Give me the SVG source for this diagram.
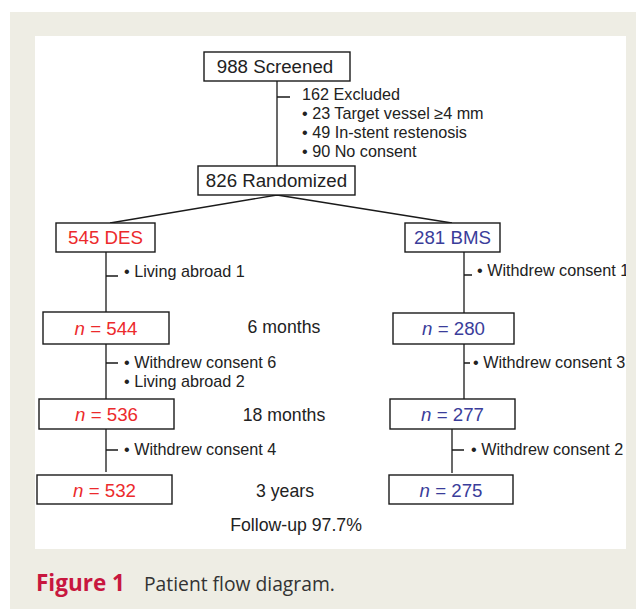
<svg xmlns="http://www.w3.org/2000/svg" width="636" height="609" viewBox="0 0 636 609">
<style>
.box{fill:#fff;stroke:#1a1a1a;stroke-width:1.4}
.ln{stroke:#1a1a1a;stroke-width:1.3;fill:none}
text{font-family:"Liberation Sans",Arial,sans-serif;fill:#222}
.big{font-size:18.7px}
.sm{font-size:16.2px}
.mid{font-size:17.7px}
.red{fill:#ec2a2c}
.blue{fill:#3a3d9a}
.c{text-anchor:middle}
</style>
<defs><clipPath id="panel"><rect x="35" y="36" width="591" height="513"/></clipPath></defs>
<rect x="0" y="0" width="636" height="609" fill="#fff"/>
<rect x="10" y="12" width="626" height="597" fill="#eeede4"/>
<rect x="35" y="36" width="591" height="513" fill="#fff"/>
<g id="connectors">
<path class="ln" d="M277 81V166M277 97H290"/>
<path class="ln" d="M277 195L110 223M277 195L452 223"/>
<path class="ln" d="M106 252V312M106 276H118"/>
<path class="ln" d="M106 344V399M106 363H118"/>
<path class="ln" d="M106 429V472M106 450H118"/>
<path class="ln" d="M464 252V313M464 275H472"/>
<path class="ln" d="M464 344V399M464 363H470"/>
<path class="ln" d="M452 429V473M452 450H464"/>
</g>
<g id="screened"><rect class="box" x="204" y="52" width="146" height="29"/><text class="big c" x="275" y="73">988 Screened</text></g>
<g id="excluded"><text class="sm" x="302" y="100">162 Excluded</text><text class="sm" x="302" y="119">• 23 Target vessel ≥4 mm</text><text class="sm" x="302" y="138">• 49 In-stent restenosis</text><text class="sm" x="302" y="157">• 90 No consent</text></g>
<g id="randomized"><rect class="box" x="198" y="166" width="157" height="29"/><text class="big c" x="276.5" y="187">826 Randomized</text></g>
<g id="des"><rect class="box" x="56" y="223" width="99" height="29"/><text class="big c red" x="105.5" y="244">545 DES</text></g>
<g id="bms"><rect class="box" x="405" y="223" width="95" height="29"/><text class="big c blue" x="452.5" y="244">281 BMS</text></g>
<g id="des-loss1"><text class="sm" x="124" y="277">• Living abroad 1</text></g>
<g id="bms-loss1" clip-path="url(#panel)"><text class="sm" x="477" y="276">• Withdrew consent 1</text></g>
<g id="des544"><rect class="box" x="43" y="312" width="126" height="32"/><text class="big c red" x="106" y="335"><tspan font-style="italic">n</tspan> = 544</text></g>
<g id="m6"><text class="mid c" x="284" y="333">6 months</text></g>
<g id="bms280"><rect class="box" x="393" y="313" width="121" height="31"/><text class="big c blue" x="453.5" y="335"><tspan font-style="italic">n</tspan> = 280</text></g>
<g id="des-loss2"><text class="sm" x="124" y="368">• Withdrew consent 6</text><text class="sm" x="124" y="387">• Living abroad 2</text></g>
<g id="bms-loss2"><text class="sm" x="473" y="368">• Withdrew consent 3</text></g>
<g id="des536"><rect class="box" x="39" y="399" width="135" height="30"/><text class="big c red" x="106.5" y="421"><tspan font-style="italic">n</tspan> = 536</text></g>
<g id="m18"><text class="mid c" x="284" y="421">18 months</text></g>
<g id="bms277"><rect class="box" x="390" y="399" width="125" height="30"/><text class="big c blue" x="452.5" y="421"><tspan font-style="italic">n</tspan> = 277</text></g>
<g id="des-loss3"><text class="sm" x="124" y="455">• Withdrew consent 4</text></g>
<g id="bms-loss3"><text class="sm" x="471" y="455">• Withdrew consent 2</text></g>
<g id="des532"><rect class="box" x="37" y="475" width="135" height="29"/><text class="big c red" x="104.5" y="497"><tspan font-style="italic">n</tspan> = 532</text></g>
<g id="y3"><text class="mid c" x="285" y="497">3 years</text></g>
<g id="bms275"><rect class="box" x="389" y="475" width="124" height="29"/><text class="big c blue" x="451" y="497"><tspan font-style="italic">n</tspan> = 275</text></g>
<g id="followup"><text class="mid c" x="296" y="531">Follow-up 97.7%</text></g>
<g id="caption"><text x="36" y="591" style="font-family:'Open Sans','Noto Sans',sans-serif;font-size:22.5px;font-weight:bold;fill:#c8173f">Figure 1</text><text x="144" y="591" style="font-family:'Open Sans','Noto Sans',sans-serif;font-size:19.3px;fill:#333">Patient flow diagram.</text></g>
</svg>
